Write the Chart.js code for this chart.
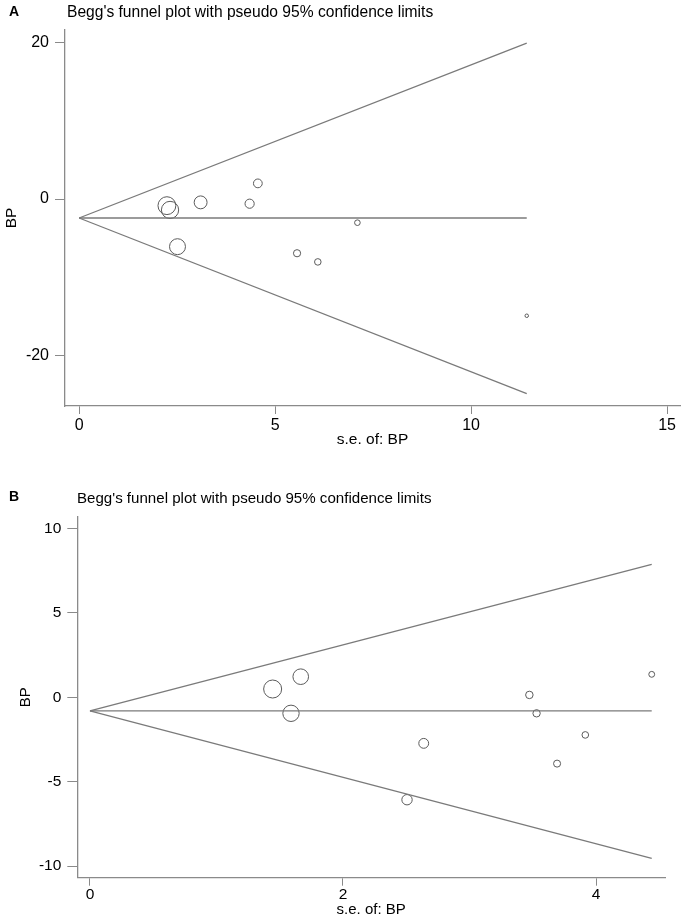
<!DOCTYPE html>
<html>
<head>
<meta charset="utf-8">
<script src="https://cdn.jsdelivr.net/npm/chart.js@4/dist/chart.umd.min.js"></script>
<style>
  html, body { margin: 0; padding: 0; background: #fff; }
  body { width: 686px; height: 919px; position: relative; overflow: hidden; font-family: "Liberation Sans", Arial, sans-serif; }
  .wrap { position: absolute; left: 0; width: 686px; }
  .lbl { position: absolute; line-height: 1; white-space: nowrap; color: #000; }
  .panel { font-weight: bold; font-size: 14px; }
</style>
</head>
<body>
<div class="wrap" style="top:0;height:460px;"><canvas id="cA"></canvas></div>
<div class="wrap" style="top:460px;height:459px;"><canvas id="cB"></canvas></div>
<div class="lbl panel" style="left:9px;top:4px;">A</div>
<div class="lbl" style="left:67px;top:4px;font-size:15.6px;">Begg's funnel plot with pseudo 95% confidence limits</div>
<div class="lbl panel" style="left:9px;top:489px;">B</div>
<div class="lbl" style="left:77px;top:490px;font-size:15.1px;">Begg's funnel plot with pseudo 95% confidence limits</div>
<script>
// ---------- Panel A data ----------
const seA = [2.24, 2.32, 3.10, 4.35, 4.56, 2.51, 5.56, 6.09, 7.10, 11.42];
const bpA = [-0.85, -1.40, -0.43, -0.60, 2.00, -6.10, -6.94, -8.05, -3.03, -14.94];
const limitSeA = [0, 11.42];
const upperA = [-2.43, 19.96];
const lowerA = [-2.43, -24.90];
const pooledA = [-2.43, -2.43];
const xTicksA = [0, 5, 10, 15];
const yTicksA = [-20, 0, 20];

// ---------- Panel B data ----------
const seB = [1.444, 1.666, 1.589, 3.473, 3.530, 2.638, 3.915, 3.692, 2.506, 4.440];
const bpB = [0.49, 1.22, -0.95, 0.14, -0.95, -2.73, -2.23, -3.93, -6.07, 1.36];
const limitSeB = [0, 4.44];
const upperB = [-0.81, 7.88];
const lowerB = [-0.81, -9.54];
const pooledB = [-0.81, -0.81];
const xTicksB = [0, 2, 4];
const yTicksB = [-10, -5, 0, 5, 10];

const FONT = '"Liberation Sans", Arial, sans-serif';
const AXIS = '#8a8a8a';
const LINE = '#7a7a7a';
const MARK = '#5a5a5a';

function pts(xs, ys) { return xs.map((x, i) => ({ x: x, y: ys[i] })); }

function lineDs(xs, ys) {
  return { data: pts(xs, ys), showLine: true, borderColor: LINE, borderWidth: 1.3,
           pointRadius: 0, fill: false, tension: 0 };
}

function build(id, o) {
  new Chart(document.getElementById(id), {
    type: 'scatter',
    data: {
      datasets: [
        lineDs(o.limSe, o.upper),
        lineDs(o.limSe, o.lower),
        lineDs(o.limSe, o.pooled),
        { data: pts(o.se, o.bp), pointStyle: 'circle', backgroundColor: 'rgba(0,0,0,0)',
          borderColor: MARK, borderWidth: 1,
          pointRadius: ctx => o.k / o.se[ctx.dataIndex] }
      ]
    },
    options: {
      responsive: true, maintainAspectRatio: false, animation: false,
      events: [],
      layout: { padding: o.pad, autoPadding: false },
      plugins: { legend: { display: false }, tooltip: { enabled: false }, title: { display: false } },
      scales: {
        x: {
          type: 'linear', min: o.xmin, max: o.xmax,
          afterBuildTicks: s => { s.ticks = o.xTicks.map(v => ({ value: v })); },
          afterFit: s => { s.height = o.xh; },
          grid: { display: true, drawOnChartArea: false, drawTicks: true, tickLength: 8, color: AXIS, lineWidth: 1 },
          border: { display: true, color: AXIS, width: 1.3 },
          ticks: { padding: o.xTickPad, color: '#000', font: { family: FONT, size: o.tickSize }, maxRotation: 0, autoSkip: false },
          title: { display: true, text: 's.e. of: BP', color: '#000', font: { family: FONT, size: o.titleSize },
                   padding: { top: 0, bottom: o.xTitlePad } }
        },
        y: {
          type: 'linear', min: o.ymin, max: o.ymax,
          afterBuildTicks: s => { s.ticks = o.yTicks.map(v => ({ value: v })); },
          afterFit: s => { s.width = o.yw; },
          grid: { display: true, drawOnChartArea: false, drawTicks: true, tickLength: 10, color: AXIS, lineWidth: 1 },
          border: { display: true, color: AXIS, width: 1.3 },
          ticks: { padding: 6, color: '#000', font: { family: FONT, size: o.tickSize }, autoSkip: false },
          title: { display: true, text: 'BP', color: '#000', font: { family: FONT, size: o.titleSize },
                   padding: { top: o.yTitlePad, bottom: 0 } }
        }
      }
    }
  });
}

build('cA', {
  se: seA, bp: bpA, limSe: limitSeA, upper: upperA, lower: lowerA, pooled: pooledA,
  xTicks: xTicksA, yTicks: yTicksA, k: 20,
  xmin: -0.36, xmax: 15.33, ymin: -26.49, ymax: 21.63,
  pad: { top: 30, right: 6, left: 0, bottom: 0 }, xh: 54, yw: 65,
  tickSize: 16, titleSize: 15.5, xTitlePad: 11, yTitlePad: 2, xTickPad: 2
});

build('cB', {
  se: seB, bp: bpB, limSe: limitSeB, upper: upperB, lower: lowerB, pooled: pooledB,
  xTicks: xTicksB, yTicks: yTicksB, k: 13,
  xmin: -0.10, xmax: 4.545, ymin: -10.69, ymax: 10.70,
  pad: { top: 56.7, right: 21, left: 0, bottom: 0 }, xh: 41.3, yw: 77.3,
  tickSize: 15.5, titleSize: 15, xTitlePad: 0.5, yTitlePad: 17, xTickPad: 0
});
</script>
</body>
</html>
